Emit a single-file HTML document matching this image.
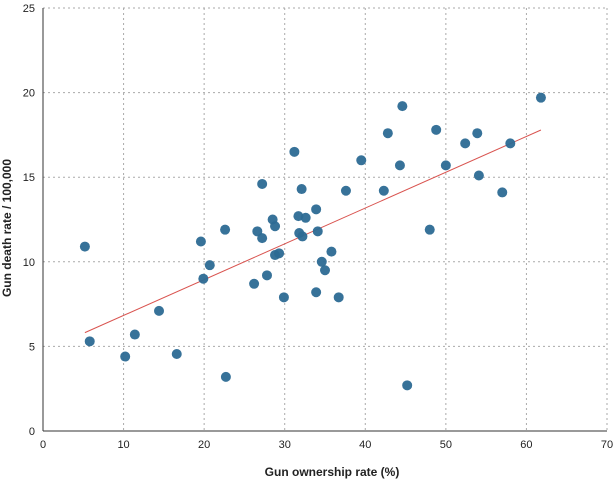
<!DOCTYPE html>
<html><head><meta charset="utf-8"><style>
body{margin:0;background:#fff;font-family:"Liberation Sans",sans-serif}
svg text{font-family:"Liberation Sans",sans-serif;fill:#222}
</style></head><body>
<svg id="chart" width="615" height="483" xmlns="http://www.w3.org/2000/svg">
<g id="grid"></g>
<g id="axes"></g>
<g id="marks"></g>
<text x="332" y="476" text-anchor="middle" font-size="12" font-weight="bold">Gun ownership rate (%)</text>
<text transform="translate(11,228) rotate(-90)" text-anchor="middle" font-size="12" font-weight="bold">Gun death rate / 100,000</text>
</svg>
<script>
const ownership=[5.2,5.8,10.2,11.4,14.4,16.6,19.6,19.9,20.7,22.6,22.7,26.2,26.6,27.2,27.2,27.8,28.5,28.8,28.8,29.3,29.9,31.2,31.7,31.8,32.1,32.2,32.6,33.9,33.9,34.1,34.6,35.0,35.8,36.7,37.6,39.5,42.3,42.8,44.3,44.6,45.2,48.0,48.8,50.0,52.4,53.9,54.1,57.0,58.0,61.8];
const deathRate=[10.9,5.3,4.4,5.7,7.1,4.55,11.2,9.0,9.8,11.9,3.2,8.7,11.8,14.6,11.4,9.2,12.5,12.1,10.4,10.5,7.9,16.5,12.7,11.7,14.3,11.5,12.6,13.1,8.2,11.8,10.0,9.5,10.6,7.9,14.2,16.0,14.2,17.6,15.7,19.2,2.7,11.9,17.8,15.7,17.0,17.6,15.1,14.1,17.0,19.7];
const xTicks=[0,10,20,30,40,50,60,70];
const yTicks=[0,5,10,15,20,25];
const X0=43,X1=607,Y0=431,Y1=8;
const sx=v=>X0+(v-0)/(70-0)*(X1-X0);
const sy=v=>Y0-(v-0)/(25-0)*(Y0-Y1);
const NS="http://www.w3.org/2000/svg";
function mk(t,a,p){const e=document.createElementNS(NS,t);for(const k in a)e.setAttribute(k,a[k]);p.appendChild(e);return e;}
const grid=document.getElementById('grid'),axes=document.getElementById('axes'),marks=document.getElementById('marks');
xTicks.forEach(v=>{
  if(v>0){const l=mk('line',{x1:sx(v),x2:sx(v),y1:Y1,y2:Y0,stroke:'#aaa','stroke-dasharray':'2,3'},grid);
  
  }
  const t=mk('text',{x:sx(v),y:Y0+17,'text-anchor':'middle','font-size':'11'},axes);t.textContent=v;
  
  
});
yTicks.forEach(v=>{
  if(v>0){const l=mk('line',{x1:X0,x2:X1,y1:sy(v),y2:sy(v),stroke:'#aaa','stroke-dasharray':'2,3'},grid);
  
  }
  const t=mk('text',{x:X0-8,y:sy(v)+4,'text-anchor':'end','font-size':'11'},axes);t.textContent=v;
  
  
});
const ax=mk('line',{x1:X0,x2:X0,y1:Y1,y2:Y0,stroke:'#333'},axes);


const bx=mk('line',{x1:X0,x2:X1,y1:Y0,y2:Y0,stroke:'#333'},axes);


// regression
const n=ownership.length;let mx=0,my=0;for(let i=0;i<n;i++){mx+=ownership[i];my+=deathRate[i];}mx/=n;my/=n;
let sxy=0,sxx=0;for(let i=0;i<n;i++){sxy+=(ownership[i]-mx)*(deathRate[i]-my);sxx+=(ownership[i]-mx)**2;}
const b=sxy/sxx,a=my-b*mx;const xmin=Math.min(...ownership),xmax=Math.max(...ownership);
const rl=mk('line',{x1:sx(xmin),y1:sy(a+b*xmin),x2:sx(xmax),y2:sy(a+b*xmax),stroke:'#d9534f','stroke-width':1},marks);


for(let i=0;i<n;i++){
  const c=mk('circle',{cx:sx(ownership[i]),cy:sy(deathRate[i]),r:5,fill:'#2c6a93','fill-opacity':0.95},marks);
  
  
}
</script>
</body></html>
